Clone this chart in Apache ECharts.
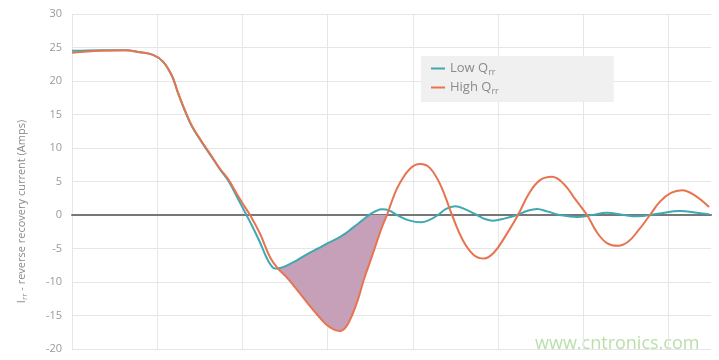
<!DOCTYPE html>
<html>
<head>
<meta charset="utf-8">
<script src="https://cdn.jsdelivr.net/npm/echarts@6/dist/echarts.min.js"></script>
<style>html,body{margin:0;padding:0;background:#fff}#c{width:719px;height:360px}</style>
</head>
<body>
<div id="c"></div>
<script>
// x positions are arbitrary time units (grid line every 100)
var lowX = [0, 32.9, 62.2, 79.8, 95.1, 106.8, 117.4, 124.4, 132.6, 140.8, 152.6, 164.3, 173.7, 183.1, 193.7, 203.1, 211.3, 220.7, 227.7, 233.5, 238.2, 243.0, 251.2, 260.6, 270.0, 279.3, 288.7, 298.1, 307.5, 314.6, 321.6, 328.6, 335.7, 342.7, 349.8, 356.8, 363.8, 372.1, 381.4, 395.5, 409.6, 420.2, 429.6, 439.0, 449.5, 462.4, 475.3, 484.7, 494.1, 508.2, 522.3, 534.0, 545.8, 558.7, 572.8, 592.7, 610.3, 627.9, 645.5, 663.1, 687.7, 713.6, 733.6, 747.7];
var lowY = [24.5, 24.6, 24.6, 24.3, 23.9, 22.9, 20.7, 18.2, 15.5, 13.2, 10.8, 8.6, 6.8, 5.2, 2.7, 0.4, -1.6, -4.1, -6.2, -7.5, -8.0, -7.95, -7.6, -7.0, -6.3, -5.6, -5.0, -4.35, -3.75, -3.25, -2.7, -2.0, -1.3, -0.6, 0.1, 0.6, 0.85, 0.7, 0, -0.8, -1.1, -0.7, 0, 0.9, 1.3, 0.8, 0, -0.6, -0.85, -0.5, 0, 0.6, 0.9, 0.5, 0, -0.3, 0, 0.35, 0.05, -0.2, 0.2, 0.6, 0.35, 0.1];
var highX = [0, 32.9, 62.2, 79.8, 95.1, 106.8, 117.4, 124.4, 132.6, 140.8, 152.6, 164.3, 173.7, 183.1, 193.7, 201.9, 208.9, 220.7, 232.4, 241.8, 251.2, 260.6, 270.0, 279.3, 288.7, 298.1, 307.5, 314.6, 321.6, 328.6, 335.7, 342.7, 349.8, 356.8, 363.8, 369.7, 377.9, 385.0, 396.7, 408.5, 420.2, 433.1, 446.0, 458.9, 471.8, 483.6, 495.3, 509.4, 523.5, 536.4, 549.3, 563.4, 577.5, 590.4, 604.5, 616.2, 627.9, 640.9, 652.6, 665.4, 678.4, 690.1, 703.0, 716.0, 730.0, 747.7];
var highY = [24.2, 24.5, 24.6, 24.3, 23.9, 22.9, 20.8, 18.3, 15.6, 13.3, 10.9, 8.7, 6.9, 5.4, 3.1, 1.4, 0, -2.8, -6.3, -8.0, -9.2, -10.6, -12.1, -13.6, -15.0, -16.3, -17.1, -17.3, -16.7, -15.0, -12.6, -9.6, -7.0, -4.4, -1.8, 0, 2.9, 4.8, 6.9, 7.6, 7.0, 4.3, 0, -3.8, -6.0, -6.5, -5.6, -3.0, 0, 3.2, 5.2, 5.7, 4.6, 2.4, 0, -2.6, -4.2, -4.6, -4.0, -2.2, 0, 2.0, 3.3, 3.7, 3.0, 1.2];
// shaded region between the curves (top edge = Low Qrr clipped at zero, bottom edge = High Qrr)
var shadeX = [241.8, 251.2, 260.6, 270.0, 279.3, 288.7, 298.1, 307.5, 314.6, 321.6, 328.6, 335.7, 342.7, 349.8, 356.8, 363.8, 369.7];
var shadeTop = [-8.0, -7.6, -7.0, -6.3, -5.6, -5.0, -4.35, -3.75, -3.25, -2.7, -2.0, -1.3, -0.6, 0, 0, 0, 0];
var shadeBottom = [-8.0, -9.2, -10.6, -12.1, -13.6, -15.0, -16.3, -17.1, -17.3, -16.7, -15.0, -12.6, -9.6, -7.0, -4.4, -1.8, 0];
var yTicks = [-20, 30, 5];
var seriesNames = ['Low Qrr', 'High Qrr'];

function pairs(xs, ys) { return xs.map(function (x, i) { return [x, ys[i]]; }); }

var FONT = '"Open Sans", sans-serif';
var chart = echarts.init(document.getElementById('c'));
chart.setOption({
  animation: false,
  textStyle: { fontFamily: FONT },
  grid: { left: 72, top: 14, width: 639, height: 335 },
  legend: {
    data: seriesNames,
    left: 421, top: 56,
    orient: 'vertical',
    backgroundColor: '#f0f0f0',
    padding: [6, 115, 6, 10],
    itemGap: 4,
    itemWidth: 14, itemHeight: 2,
    icon: 'rect',
    formatter: function (n) { return n.replace('Qrr', 'Q{sub|rr}'); },
    textStyle: {
      color: '#8a8a8a', fontSize: 13, fontFamily: FONT,
      rich: { sub: { fontSize: 9, color: '#8a8a8a', fontFamily: FONT, padding: [8, 0, 0, 0] } }
    }
  },
  xAxis: {
    type: 'value', min: 0, max: 750, interval: 100,
    axisLine: { onZero: true, lineStyle: { color: '#777', width: 2 } },
    axisTick: { show: false },
    axisLabel: { show: false },
    splitLine: { show: true, showMaxLine: false, lineStyle: { color: '#e6e6e6' } }
  },
  yAxis: {
    type: 'value', min: yTicks[0], max: yTicks[1], interval: yTicks[2],
    axisLine: { show: false },
    axisTick: { show: false },
    axisLabel: { color: '#999', fontSize: 11, margin: 10, fontFamily: FONT },
    splitLine: { lineStyle: { color: '#e6e6e6' } },
    name: 'I{sub|rr} - reverse recovery current (Amps)',
    nameLocation: 'middle', nameGap: 43,
    nameTextStyle: {
      color: '#8a8a8a', fontSize: 11, fontFamily: FONT, padding: [0, 60, 0, 0],
      rich: { sub: { fontSize: 8, color: '#8a8a8a', fontFamily: FONT, padding: [7, 0, 0, 0] } }
    }
  },
  series: [
    { type: 'custom', name: '_shade', coordinateSystem: 'cartesian2d', silent: true,
      data: [[shadeX[0], shadeTop[0]]],
      renderItem: function (params, api) {
        var pts = [];
        for (var i = 0; i < shadeX.length; i++) pts.push(api.coord([shadeX[i], shadeTop[i]]));
        for (var j = shadeX.length - 1; j >= 0; j--) pts.push(api.coord([shadeX[j], shadeBottom[j]]));
        return { type: 'polygon', shape: { points: pts }, style: { fill: '#c5a0b8', stroke: null } };
      } },
    { type: 'line', name: seriesNames[0], data: pairs(lowX, lowY), smooth: 0.4, showSymbol: false,
      color: '#3fa8b2', lineStyle: { width: 2, color: '#3fa8b2' } },
    { type: 'line', name: seriesNames[1], data: pairs(highX, highY), smooth: 0.4, showSymbol: false,
      color: '#e8734f', lineStyle: { width: 2, color: '#e8734f' } }
  ],
  graphic: [{
    type: 'text', left: 535, top: 335,
    style: { text: 'www.cntronics.com', fill: '#b9dfaa', fontSize: 18, fontFamily: FONT }
  }]
});
</script>
</body>
</html>
